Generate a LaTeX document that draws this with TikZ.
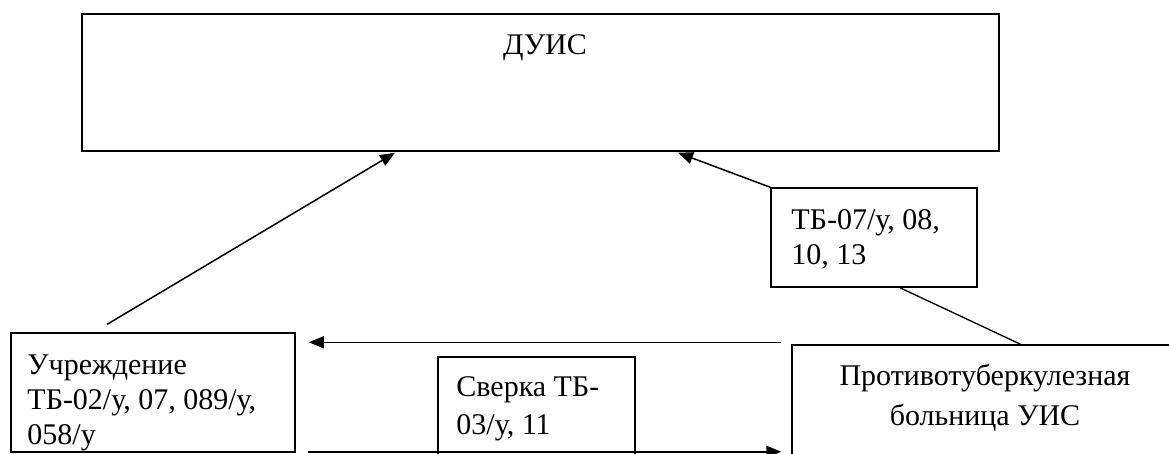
\documentclass[tikz,border=0pt]{standalone}
\usepackage{fontspec}
\setmainfont{Liberation Serif}
\usetikzlibrary{arrows.meta,positioning}

\begin{document}
\begin{tikzpicture}[x=1pt,y=-1pt,
  box/.style={draw, line width=1.5pt, inner sep=0pt},
  txt/.style={inner sep=0pt, align=left, font=\fontsize{30}{35}\selectfont},
  arr/.style={line width=1.5pt, -{Triangle[length=15pt,width=12pt]}},
  lin/.style={line width=1.3pt}]
\useasboundingbox (0,0) rectangle (1169,453);
\clip (0,0) rectangle (1169,453);

%Boxes
\node[box, minimum width=917pt, minimum height=137pt] (duis) at (540.5,82.5) {};
\node[box, minimum width=284pt, minimum height=119pt] (uchr) at (153,392.5) {};
\node[box, minimum width=197pt, minimum height=103pt] (sverka) at (536.5,408.5) {};
\node[box, minimum width=393pt, minimum height=125pt] (bol) at (988.5,407.5) {};
\node[box, minimum width=206pt, minimum height=99pt] (forms) at (874,237.5) {};

% Text Node
\node[txt, anchor=north] (duis-t) at ([shift={(4.5,21)}]duis.north) {ДУИС};
% Text Node
\node[txt, anchor=north west] (uchr-t) at ([shift={(17,22)}]uchr.north west) {Учреждение\\ТБ-02/у, 07, 089/у,\\058/у};
% Text Node
\node[txt, anchor=north west, font=\fontsize{30}{38}\selectfont] (sverka-t) at ([shift={(19,20)}]sverka.north west) {Сверка ТБ-\\03/у, 11};
% Text Node
\node[txt, anchor=north west] (forms-t) at ([shift={(21,22)}]forms.north west) {ТБ-07/у, 08,\\10, 13};
% Text Node
\node[txt, anchor=north, align=center, font=\fontsize{30}{40}\selectfont] (bol-t) at ([shift={(-3.5,20)}]bol.north) {Противотуберкулезная\\больница УИС};

%Straight Lines
\coordinate (outUchr) at ([shift={(97,-8)}]uchr.north west);
\coordinate (inA) at ([shift={(-145.5,1)}]duis.south);
\draw[arr] (outUchr) -- (inA);
%Straight Lines
\coordinate (inB) at ([shift={(137.5,1)}]duis.south);
\draw[arr] (forms.north west) -- (inB);
%Straight Lines
\draw[lin] ([xshift=32pt]bol.north) -- ([xshift=26pt]forms.south);
%Straight Lines
\coordinate (outBol) at ([shift={(-10,-2)}]bol.north west);
\coordinate (inUchr) at ([shift={(13,10)}]uchr.north east);
\draw[arr] (outBol) -- (outBol -| inUchr);
%Straight Lines
\coordinate (outUchrB) at ([shift={(12,-1)}]uchr.south east);
\draw[arr] (outUchrB) -- (outUchrB -| outBol);

\end{tikzpicture}
\end{document}
